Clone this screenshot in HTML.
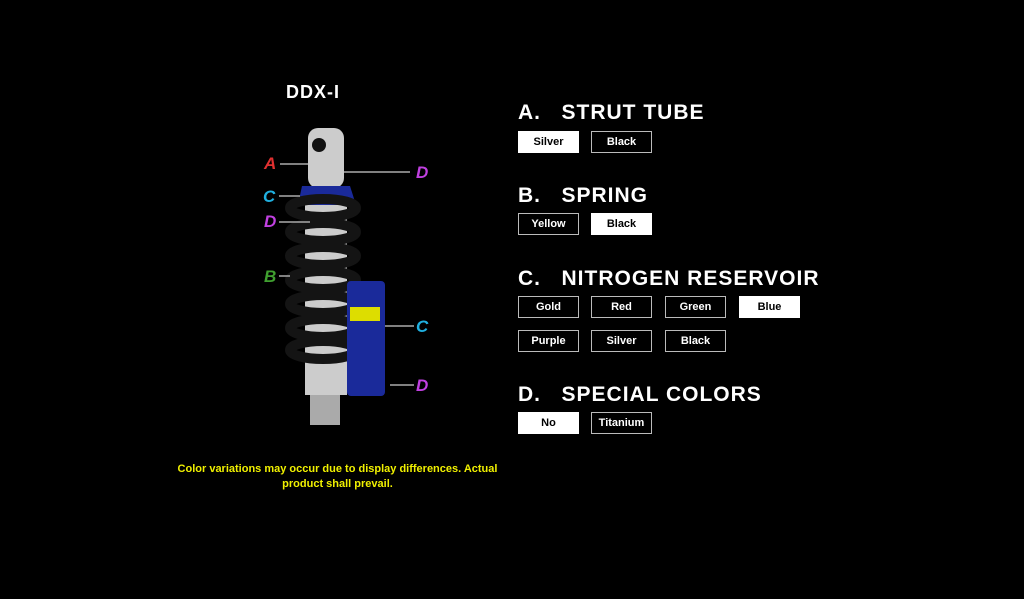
<!DOCTYPE html>
<html><head><style>
body{margin:0;width:1024px;height:599px;background:#000;overflow:hidden;position:relative;font-family:"Liberation Sans",sans-serif;color:#fff}
.a{position:absolute}
.h{font-size:21px;font-weight:bold;letter-spacing:1px;white-space:nowrap}
.b{position:absolute;width:59px;height:20px;border:1px solid #bbb;font-size:11px;font-weight:bold;text-align:center;line-height:20px;color:#fff;box-sizing:content-box}
.b.w{background:#fff;color:#000;border-color:#fff}
.l{position:absolute;font-size:17px;font-weight:bold;font-style:italic}
</style></head><body>
<div class="a h" style="left:286px;top:82px;font-size:18px">DDX-I</div>
<svg class="a" style="left:250px;top:120px" width="200" height="310" viewBox="250 120 200 310">
<rect x="308" y="128" width="36" height="60" rx="10" fill="#ccc"/>
<circle cx="319" cy="145" r="7" fill="#111"/>
<path d="M302 186 L350 186 L356 205 L298 205Z" fill="#1a2a9a"/>
<rect x="305" y="205" width="42" height="190" fill="#ccc"/>
<g fill="none" stroke="#141414" stroke-width="10">
<ellipse cx="323" cy="208" rx="33" ry="9"/>
<ellipse cx="323" cy="232" rx="33" ry="9"/>
<ellipse cx="323" cy="256" rx="33" ry="9"/>
<ellipse cx="323" cy="280" rx="33" ry="9"/>
<ellipse cx="323" cy="304" rx="33" ry="9"/>
<ellipse cx="323" cy="328" rx="33" ry="9"/>
<ellipse cx="323" cy="350" rx="33" ry="9"/>
</g>
<rect x="347" y="281" width="38" height="115" rx="4" fill="#1a2a9a"/>
<rect x="350" y="307" width="30" height="14" fill="#dd0"/>
<rect x="310" y="395" width="30" height="30" fill="#aaa"/>
<g stroke="#aaa" stroke-width="1.5">
<line x1="280" y1="164" x2="308" y2="164"/><line x1="344" y1="172" x2="410" y2="172"/>
<line x1="279" y1="196" x2="300" y2="196"/><line x1="279" y1="222" x2="310" y2="222"/>
<line x1="279" y1="276" x2="290" y2="276"/><line x1="385" y1="326" x2="414" y2="326"/>
<line x1="390" y1="385" x2="414" y2="385"/></g>
</svg>
<div class="l" style="left:264px;top:154px;color:#e03030">A</div>
<div class="l" style="left:416px;top:163px;color:#c040e0">D</div>
<div class="l" style="left:263px;top:187px;color:#20b0e0">C</div>
<div class="l" style="left:264px;top:212px;color:#c040e0">D</div>
<div class="l" style="left:264px;top:267px;color:#40a030">B</div>
<div class="l" style="left:416px;top:317px;color:#20b0e0">C</div>
<div class="l" style="left:416px;top:376px;color:#c040e0">D</div>
<div class="a" style="left:160px;top:462px;width:355px;text-align:center;color:#f0f000;font-size:11px;font-weight:bold;line-height:15px">Color variations may occur due to display differences. Actual<br>product shall prevail.</div>

<div class="a h" style="left:518px;top:101px">A.&nbsp;&nbsp;&nbsp;STRUT TUBE</div>
<div class="b w" style="left:518px;top:131px">Silver</div>
<div class="b" style="left:591px;top:131px">Black</div>
<div class="a h" style="left:518px;top:184px">B.&nbsp;&nbsp;&nbsp;SPRING</div>
<div class="b" style="left:518px;top:213px">Yellow</div>
<div class="b w" style="left:591px;top:213px">Black</div>
<div class="a h" style="left:518px;top:267px">C.&nbsp;&nbsp;&nbsp;NITROGEN RESERVOIR</div>
<div class="b" style="left:518px;top:296px">Gold</div>
<div class="b" style="left:591px;top:296px">Red</div>
<div class="b" style="left:665px;top:296px">Green</div>
<div class="b w" style="left:739px;top:296px">Blue</div>
<div class="b" style="left:518px;top:330px">Purple</div>
<div class="b" style="left:591px;top:330px">Silver</div>
<div class="b" style="left:665px;top:330px">Black</div>
<div class="a h" style="left:518px;top:383px">D.&nbsp;&nbsp;&nbsp;SPECIAL COLORS</div>
<div class="b w" style="left:518px;top:412px">No</div>
<div class="b" style="left:591px;top:412px">Titanium</div>
</body></html>
